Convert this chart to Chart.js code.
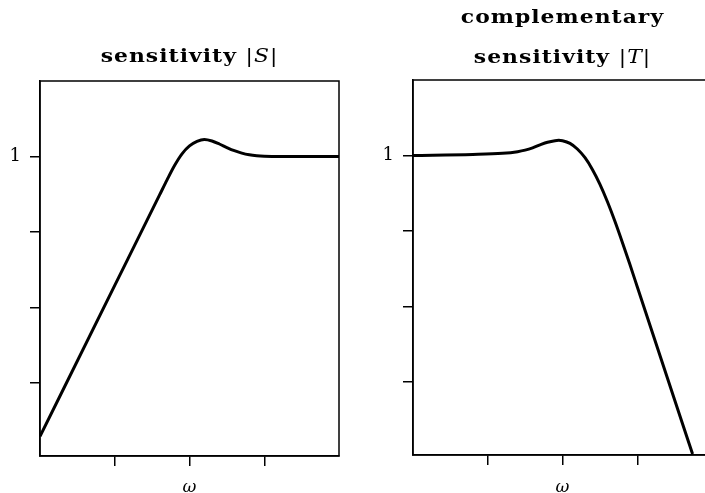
<!DOCTYPE html>
<html>
<head>
<meta charset="utf-8">
<script src="https://cdn.jsdelivr.net/npm/chart.js@4"></script>
<style>
    html, body { margin: 0; padding: 0; background: #fff; overflow: hidden; }
    #left  { position: absolute; left: 0;     top: 0; width: 360px; height: 493px; }
    #right { position: absolute; left: 373px; top: 0; width: 340px; height: 493px; }
</style>
</head>
<body>
<div id="left"><canvas id="chartS"></canvas></div>
<div id="right"><canvas id="chartT"></canvas></div>
<script>
// sensitivity |S| (log-log)
const omegaS = [1, 10, 39.8, 50.1, 63.1, 79.4, 100, 126, 158, 200, 251, 316, 398, 501, 631, 794, 1000, 1259, 10000];
const magS   = [0.000195, 0.0195, 0.309, 0.490, 0.759, 1.084, 1.380, 1.585, 1.679, 1.603, 1.462, 1.312, 1.191, 1.107, 1.052, 1.021, 1.005, 1, 1];

// complementary sensitivity |T| (log-log)
const omegaT = [1, 6.31, 15.8, 25.1, 31.6, 39.8, 50.1, 63.1, 79.4, 89.1, 100, 126, 158, 200, 251, 316, 398, 501, 631, 794, 1000, 1585, 2512, 3981, 5495];
const magT   = [1, 1.03, 1.067, 1.122, 1.175, 1.259, 1.380, 1.496, 1.570, 1.585, 1.567, 1.445, 1.216, 0.933, 0.653, 0.417, 0.245, 0.135, 0.0708, 0.0363, 0.0182, 0.00457, 0.00115, 0.000288, 0.000110];

const xTicks = [10, 100, 1000];
const yTicks = [0.001, 0.01, 0.1, 1];

const titleS = ['sensitivity |S|'];
const titleT = ['complementary', 'sensitivity |T|'];
const xLabel = 'ω';

const ink = '#000';

// draws the heading lines in a wide bold face, the letter between bars in italic
const panelTitle = {
    id: 'panelTitle',
    afterDraw(chart, args, opts) {
        const ctx = chart.ctx;
        const cx = (chart.chartArea.left + chart.chartArea.right) / 2;
        const stretch = 1.15;
        ctx.save();
        ctx.fillStyle = ink;
        ctx.textBaseline = 'alphabetic';
        ctx.textAlign = 'left';
        ctx.letterSpacing = '0.9px';
        opts.lines.forEach((line, i) => {
            const parts = [];
            const m = line.match(/^(.*?)\|(.)\|$/);
            if (m) {
                parts.push([m[1], 'bold 19px "DejaVu Serif"']);
                parts.push(['|', '19px "DejaVu Serif"']);
                parts.push([m[2], 'italic 19px "DejaVu Serif"']);
                parts.push(['|', '19px "DejaVu Serif"']);
            } else {
                parts.push([line, 'bold 19px "DejaVu Serif"']);
            }
            let total = 0;
            parts.forEach(p => { ctx.font = p[1]; total += ctx.measureText(p[0]).width; });
            ctx.save();
            ctx.translate(cx - total * stretch / 2, opts.baselines[i]);
            ctx.scale(stretch, 1);
            let x = 0;
            parts.forEach(p => {
                ctx.font = p[1];
                ctx.fillText(p[0], x, 0);
                x += ctx.measureText(p[0]).width;
            });
            ctx.restore();
        });
        ctx.restore();
    }
};

// closes the plot box on top and right
const frame = {
    id: 'frame',
    afterDraw(chart) {
        const a = chart.chartArea;
        const ctx = chart.ctx;
        ctx.save();
        ctx.strokeStyle = ink;
        ctx.lineWidth = 1.5;
        ctx.strokeRect(a.left, a.top, a.right - a.left, a.bottom - a.top);
        ctx.restore();
    }
};

function makeChart(id, omega, mag, title, baselines, padTop, padRight, xHeight) {
    const points = omega.map((w, i) => ({ x: w, y: mag[i] }));
    new Chart(document.getElementById(id), {
        type: 'line',
        data: {
            datasets: [{
                data: points,
                borderColor: ink,
                borderWidth: 3,
                pointRadius: 0,
                fill: false,
                cubicInterpolationMode: 'monotone'
            }]
        },
        options: {
            responsive: true,
            maintainAspectRatio: false,
            animation: false,
            layout: { padding: { top: padTop, right: padRight, left: 0, bottom: 0 } },
            plugins: {
                legend: { display: false },
                tooltip: { enabled: false },
                panelTitle: { lines: title, baselines: baselines }
            },
            scales: {
                x: {
                    type: 'logarithmic',
                    min: 1,
                    max: 10000,
                    afterBuildTicks: s => { s.ticks = xTicks.map(v => ({ value: v })); },
                    afterFit: s => { s.height = xHeight; },
                    ticks: { display: false },
                    grid: { drawOnChartArea: false, drawTicks: true, tickLength: 10, color: ink, lineWidth: 1.5 },
                    border: { display: true, color: ink, width: 1.5 },
                    title: {
                        display: true,
                        text: xLabel,
                        color: ink,
                        font: { family: 'DejaVu Serif', style: 'italic', size: 17 },
                        padding: { top: 0, bottom: -5 }
                    }
                },
                y: {
                    type: 'logarithmic',
                    min: 0.000107,
                    max: 10,
                    afterBuildTicks: s => { s.ticks = yTicks.map(v => ({ value: v })); },
                    afterFit: s => { s.width = 40; },
                    ticks: {
                        color: ink,
                        padding: 9,
                        font: { family: 'DejaVu Serif', size: 18 },
                        callback: v => (v === 1 ? '1' : '')
                    },
                    grid: { drawOnChartArea: false, drawTicks: true, tickLength: 10, color: ink, lineWidth: 1.5 },
                    border: { display: true, color: ink, width: 1.5 }
                }
            }
        },
        plugins: [panelTitle, frame]
    });
}

makeChart('chartS', omegaS, magS, titleS, [62], 81, 21, 37);
makeChart('chartT', omegaT, magT, titleT, [23, 63], 80, 1, 38);
</script>
</body>
</html>
